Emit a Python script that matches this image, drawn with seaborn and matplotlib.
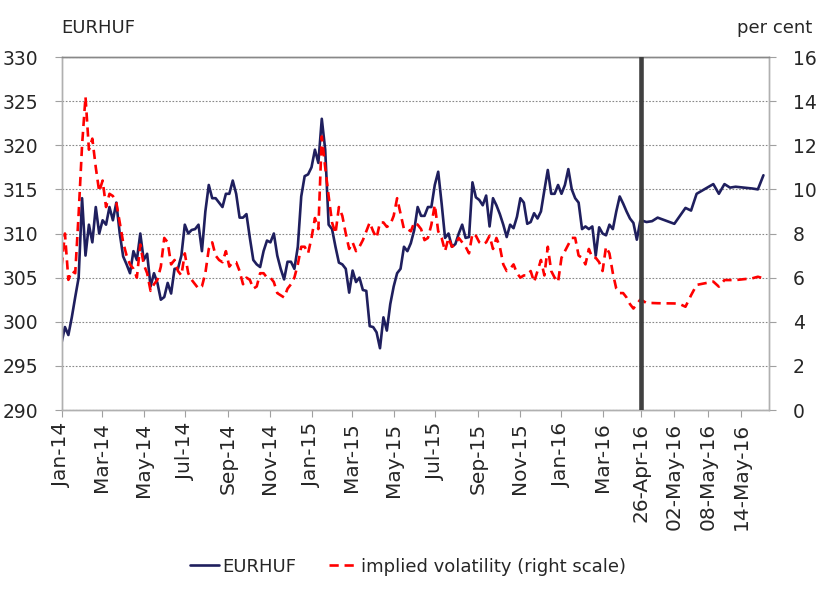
import matplotlib
matplotlib.use("Agg")
import matplotlib.pyplot as plt
import matplotlib.dates as mdates
from matplotlib.lines import Line2D
import numpy as np
import pandas as pd
import seaborn as sns

# history: one reading every 5 days from 1 Jan 2014 to 25 Apr 2016
hist_start = "2014-01-01"
hist_step = "5D"
eurhuf_hist = [
    297.6, 299.4, 298.5, 300.5, 302.8, 305.0, 314.0, 307.5, 311.0, 309.0,
    313.0, 310.0, 311.5, 311.0, 313.0, 311.5, 313.5, 310.0, 307.4, 306.5,
    305.5, 308.0, 307.0, 310.0, 307.0, 307.7, 304.0, 305.5, 304.4, 302.5,
    302.8, 304.4, 303.2, 306.0, 306.0, 307.5, 311.0, 310.0, 310.4, 310.5,
    311.0, 308.0, 312.5, 315.5, 314.0, 314.0, 313.5, 313.0, 314.5, 314.5,
    316.0, 314.5, 311.8, 311.8, 312.2, 309.5, 307.0, 306.5, 306.2, 308.0,
    309.2, 309.0, 310.0, 307.5, 306.0, 304.8, 306.8, 306.8, 306.0, 308.5,
    314.2, 316.5, 316.7, 317.5, 319.5, 318.0, 323.0, 319.5, 311.0, 310.5,
    308.5, 306.7, 306.5, 306.0, 303.3, 305.8, 304.5, 305.0, 303.6, 303.5,
    299.5, 299.4, 298.8, 297.0, 300.5, 299.0, 302.0, 304.0, 305.5, 306.0,
    308.5, 308.0, 308.9, 310.4, 313.0, 312.0, 312.0, 313.0, 313.0, 315.5,
    317.0, 313.4, 309.5, 310.0, 308.5, 308.8, 310.0, 311.0, 309.5, 309.6,
    315.8, 314.1, 313.8, 313.2, 314.3, 310.8, 314.0, 313.2, 312.2, 311.0,
    309.6, 311.0, 310.6, 311.9, 314.0, 313.5, 311.1, 311.3, 312.3, 311.7,
    312.5, 314.9, 317.2, 314.5, 314.5, 315.5, 314.5, 315.5, 317.3, 315.0,
    314.0, 313.5, 310.5, 310.8, 310.5, 310.8, 307.5, 310.7, 310.0, 309.8,
    311.0, 310.5, 312.5, 314.2, 313.4, 312.5, 311.7, 311.2, 309.3, 311.4,
]
vol_hist = [
    6.5, 8.0, 5.9, 6.3, 6.2, 8.9, 12.0, 14.2, 11.8, 12.3,
    11.0, 9.9, 10.4, 9.2, 9.8, 9.7, 9.4, 8.5, 7.6, 7.0,
    6.6, 6.4, 6.0, 7.5, 6.6, 6.2, 5.4, 5.7, 5.9, 6.5,
    7.8, 7.6, 6.6, 6.8, 6.3, 6.1, 7.1, 6.2, 5.9, 5.7,
    5.5, 5.6, 6.2, 7.3, 7.6, 7.0, 6.8, 6.7, 7.2, 6.5,
    6.7, 6.7, 6.3, 5.7, 6.0, 5.9, 5.5, 5.6, 6.2, 6.2,
    6.0, 6.0, 5.8, 5.3, 5.2, 5.1, 5.5, 5.7, 6.0, 6.6,
    7.4, 7.4, 7.1, 7.8, 8.7, 8.2, 12.4, 11.0, 9.7, 8.5,
    8.0, 9.2, 8.8, 8.0, 7.3, 7.6, 7.2, 7.4, 7.7, 8.1,
    8.5, 8.1, 7.8, 8.5, 8.5, 8.3, 8.4, 8.8, 9.6, 8.9,
    8.2, 8.2, 8.1, 8.5, 8.4, 8.2, 7.7, 7.8, 8.4, 9.3,
    8.1, 7.8, 7.2, 7.8, 7.4, 7.5, 7.8, 7.6, 7.4, 7.1,
    8.0, 7.9, 7.6, 7.5, 7.6, 7.9, 7.3, 7.8, 7.4, 6.6,
    6.3, 6.4, 6.6, 6.2, 6.0, 6.1, 6.1, 6.3, 5.8, 6.3,
    6.8, 6.1, 7.4, 6.3, 6.0, 5.8, 6.9, 7.2, 7.5, 7.8,
    7.8, 7.0, 6.9, 6.6, 7.3, 6.9, 6.9, 6.7, 6.3, 7.4,
    7.1, 6.2, 5.5, 5.3, 5.3, 5.1, 4.8, 4.6, 4.8, 5.0,
]

# recent daily data (business days)
recent_dates = [
    "2016-04-26", "2016-04-27", "2016-04-28", "2016-04-29", "2016-05-02",
    "2016-05-03", "2016-05-04", "2016-05-05", "2016-05-06", "2016-05-09",
    "2016-05-10", "2016-05-11", "2016-05-12", "2016-05-13", "2016-05-16",
    "2016-05-17", "2016-05-18",
]
eurhuf_recent = [311.5, 311.3, 311.4, 311.8, 311.1, 312.0, 312.9, 312.6, 314.5,
                 315.6, 314.5, 315.6, 315.2, 315.3, 315.1, 315.0, 316.6]
vol_recent = [5.0, 4.85, 4.85, 4.84, 4.83, 4.8, 4.68, 5.2, 5.67,
              5.82, 5.59, 5.89, 5.89, 5.89, 5.97, 6.04, 5.97]

month_ticks = pd.date_range("2014-01-01", "2016-03-01", freq="2MS")
day_ticks = pd.to_datetime(["2016-04-26", "2016-05-02", "2016-05-08", "2016-05-14"])
split_date = pd.Timestamp("2016-04-26")
end_date = pd.Timestamp("2016-05-19")

# build the table
hist_dates = pd.date_range(hist_start, periods=len(eurhuf_hist), freq=hist_step)
df = pd.DataFrame({
    "date": list(hist_dates) + list(pd.to_datetime(recent_dates)),
    "EURHUF": eurhuf_hist + eurhuf_recent,
    "vol": vol_hist + vol_recent,
})

sns.set_style("white")
plt.rcParams["font.family"] = ["DejaVu Sans"]

fig = plt.figure(figsize=(8.16, 5.89), dpi=100)
ax = fig.add_axes([0.0754, 0.3039, 0.8670, 0.5993])
ax2 = ax.twinx()

sns.lineplot(data=df, x="date", y="EURHUF", ax=ax, color="#1f1f5e", linewidth=1.9)
sns.lineplot(data=df, x="date", y="vol", ax=ax2, color="#ff0000", linewidth=1.9,
             linestyle=(0, (3.5, 2.2)))

# the last weeks are drawn stretched, like the original
brk = mdates.date2num(split_date)
stretch = 8.13

def fwd(x):
    x = np.asarray(x, dtype=float)
    return np.where(x <= brk, x, brk + (x - brk) * stretch)

def inv(y):
    y = np.asarray(y, dtype=float)
    return np.where(y <= brk, y, brk + (y - brk) / stretch)

ax.set_xscale("function", functions=(fwd, inv))
ax.set_xlim(pd.Timestamp(hist_start), end_date)

ticks = list(month_ticks) + list(day_ticks)
labels = [d.strftime("%b-%y") for d in month_ticks] + [d.strftime("%d-%b-%y") for d in day_ticks]
ax.set_xticks(mdates.date2num(ticks))
ax.set_xticklabels(labels, rotation=90, fontsize=14.5)
ax.xaxis.set_minor_locator(matplotlib.ticker.NullLocator())

ax.set_ylim(290, 330)
ax.set_yticks(np.arange(290, 331, 5))
ax2.set_ylim(0, 16)
ax2.set_yticks(np.arange(0, 17, 2))
ax.tick_params(axis="y", labelsize=13.5, length=5, color="#a0a0a0", pad=12, left=True)
ax2.tick_params(axis="y", labelsize=13.5, length=5, color="#a0a0a0", pad=12, right=True)
ax.tick_params(axis="x", length=5, color="#a0a0a0", pad=4, bottom=True)

ax.set_xlabel("")
ax.set_ylabel("")
ax2.set_ylabel("")

ax.yaxis.grid(True, linestyle=(0, (1.5, 1.5)), color="#888888", linewidth=0.8)
ax.set_axisbelow(True)
for a in (ax, ax2):
    for s in a.spines.values():
        s.set_color("#b0b0b0")
        s.set_linewidth(1.0)
    a.spines["top"].set_color("#888888")

ax2.axvline(split_date, color="#404040", linewidth=3.3, zorder=5)

fig.text(0.0754, 0.952, "EURHUF", ha="left", va="center", fontsize=13)
fig.text(0.995, 0.952, "per cent", ha="right", va="center", fontsize=13)

handles = [
    Line2D([], [], color="#1f1f5e", linewidth=1.9),
    Line2D([], [], color="#ff0000", linewidth=1.9, linestyle=(0, (3.5, 2.2))),
]
fig.legend(handles, ["EURHUF", "implied volatility (right scale)"], loc="lower center",
           bbox_to_anchor=(0.5, -0.005), ncol=2, frameon=False, fontsize=13,
           handlelength=1.6, handletextpad=0.2, columnspacing=1.8)

fig.savefig("out.png", dpi=100)
